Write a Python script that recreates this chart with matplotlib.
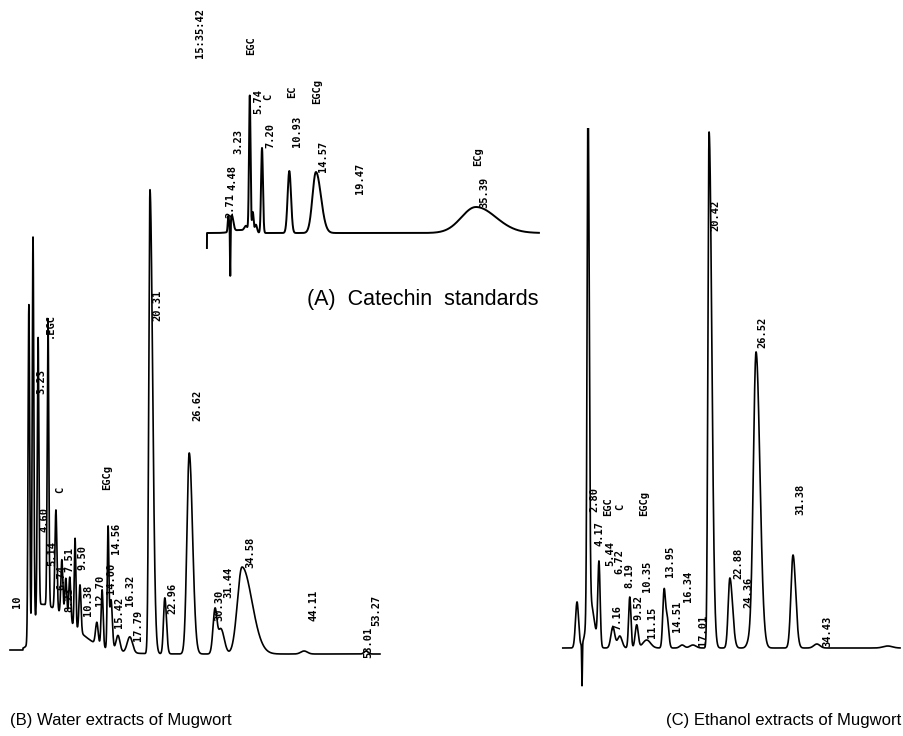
"""
HPLC chromatograms of catechin standards and mugwort extracts
"""
import numpy as np
import matplotlib.pyplot as plt

W, H = 904, 736

# ---- (A) catechin standards : retention time (min), height, left / right width (min)
a_rt = [3.0, 3.25, 3.45, 4.5, 5.3, 5.8, 6.2, 6.6, 7.4, 10.97, 14.45, 35.37]
a_h  = [15, -54, 16, 3, 5, 136, 20, 8, 85, 62, 61, 26]
a_wl = [0.08, 0.04, 0.2, 1.0, 0.2, 0.1, 0.1, 0.15, 0.12, 0.22, 0.45, 1.9]
a_wr = [0.08, 0.04, 0.2, 1.0, 0.2, 0.1, 0.1, 0.15, 0.12, 0.22, 0.65, 2.6]
a_run = (0.2, 43.6)
a_lead_t = [0.2]
a_lead_y = [-15]
a_lab = ["15:35:42", "EGC", "5.74", "C", "3.23", "2.71", "4.48", "7.20", "EC",
         "10.93", "EGCg", "14.57", "19.47", "ECg", "35.39"]
a_lab_t = [-0.7, 5.96, 6.88, 8.18, 4.26, 3.3, 3.55, 8.44, 11.3, 11.97, 14.6, 15.37, 20.2, 35.6, 36.5]
a_lab_h = [200, 187, 132, 136, 92, 28, 55, 97, 141, 102, 141, 77, 55, 76, 41]

# ---- (B) water extract
b_rt = [1.2, 4.0, 2.1, 2.73, 3.5, 5.0, 6.2, 7.1, 7.7, 8.3, 9.1, 9.85, 12.4, 13.2, 14.1,
        14.55, 15.6, 17.4, 20.45, 22.7, 26.4, 30.3, 31.2, 34.4, 43.8, 53.2]
b_h  = [5, 45, 337, 392, 272, 287, 100, 55, 40, 45, 89, 47, 22, 57, 119,
        50, 16, 16, 464, 56, 201, 44, 25, 87, 3, 3]
b_wl = [0.01, 1.0, 0.12, 0.12, 0.12, 0.12, 0.15, 0.15, 0.15, 0.15, 0.12, 0.15, 0.2, 0.15, 0.12,
        0.2, 0.3, 0.4, 0.18, 0.2, 0.35, 0.3, 0.4, 0.7, 0.5, 0.3]
b_wr = [8.0, 4.5, 0.12, 0.12, 0.12, 0.12, 0.15, 0.15, 0.15, 0.15, 0.12, 0.15, 0.2, 0.15, 0.12,
        0.2, 0.3, 0.4, 0.4, 0.25, 0.5, 0.3, 0.5, 1.5, 0.5, 0.3]
b_run = (1.2, 55.3)
b_lead_t = [-0.76, 1.2]
b_lead_y = [4, 4]
b_lab = ["10", ".EGC", "3.23", "C", "4.60", "5.14", "6.74", "7.51", "8.23", "9.50", "10.38",
         "12.70", "14.00", "14.56", "EGCg", "16.32", "15.42", "17.79", "20.31", "22.96",
         "26.62", "30.30", "31.44", "34.58", "44.11", "53.01", "53.27"]
b_lab_t = [0.3, 5.3, 3.94, 6.8, 4.4, 5.6, 7.1, 8.3, 8.3, 10.3, 11.1,
           12.9, 14.6, 15.3, 13.9, 17.4, 15.8, 18.6, 21.5, 23.8,
           27.6, 30.9, 32.3, 35.6, 45.2, 53.5, 54.8]
b_lab_h = [52, 329, 272, 164, 134, 101, 77, 94, 54, 97, 54,
           64, 76, 116, 176, 64, 42, 29, 349, 56,
           249, 49, 72, 102, 49, 12, 44]

# ---- (C) ethanol extract
c_rt = [3.25, 3.9, 4.68, 5.0, 6.1, 7.9, 8.8, 10.1, 11.0, 12.3, 14.55, 14.95, 16.9, 18.3,
        20.4, 23.1, 25.6, 26.5, 31.3, 34.4, 43.6]
c_h  = [46, -42, 516, 45, 83, 21, 12, 51, 23, 8, 55, 30, 3, 3,
        516, 70, 6, 296, 93, 4, 2]
c_wl = [0.2, 0.04, 0.12, 0.5, 0.15, 0.25, 0.3, 0.15, 0.2, 0.5, 0.17, 0.2, 0.3, 0.4,
        0.15, 0.22, 0.3, 0.35, 0.27, 0.4, 0.6]
c_wr = [0.2, 0.04, 0.15, 0.5, 0.15, 0.25, 0.3, 0.15, 0.2, 0.5, 0.17, 0.2, 0.3, 0.4,
        0.35, 0.35, 0.3, 0.5, 0.35, 0.4, 0.6]
c_run = (1.4, 45.2)
c_lab = ["2.80", "EGC", "C", "EGCg", "4.17", "5.44", "6.72", "8.19", "7.16", "9.52",
         "10.35", "11.15", "13.95", "14.51", "16.34", "17.01", "20.42", "22.88",
         "24.36", "26.52", "31.38", "34.43"]
c_lab_t = [5.45, 7.27, 8.83, 11.95, 6.23, 7.6, 8.8, 10.0, 8.44, 11.2,
           12.3, 13.0, 15.3, 16.2, 17.7, 19.6, 21.2, 24.2,
           25.5, 27.3, 32.2, 35.7]
c_lab_h = [148, 141, 141, 144, 115, 95, 86, 73, 30, 41,
           72, 26, 87, 32, 62, 18, 433, 85,
           56, 316, 149, 17]


def trace(rt, h, wl, wr, run):
    t = np.arange(run[0], run[1], 0.004)
    y = np.zeros_like(t)
    for t0, hh, sl, sr in zip(rt, h, wl, wr):
        s = np.where(t < t0, sl, sr)
        y += hh * np.exp(-0.5 * ((t - t0) / s) ** 2)
    return t, y


def panel(fig, xlim, ylim, px_x, px_y):
    # px_x / px_y: figure pixel positions of xlim / ylim ends
    ax = fig.add_axes([px_x[0] / W, 1 - px_y[0] / H,
                       (px_x[1] - px_x[0]) / W, (px_y[0] - px_y[1]) / H])
    ax.set_xlim(xlim)
    ax.set_ylim(ylim)
    ax.axis('off')
    return ax


def labels(ax, txt, tt, hh):
    for s, x, y in zip(txt, tt, hh):
        ax.text(x, y, s, rotation=90, ha='center', va='center',
                family='DejaVu Sans Mono', fontweight='bold', fontsize=7.5)


fig = plt.figure(figsize=(W / 100, H / 100), dpi=100)

# A: t -> 205.4 + 7.65 t px, height -> 233 - h px
axA = panel(fig, (0, 44), (-60, 200), (205.4, 205.4 + 44 * 7.65), (293, 33))
t, y = trace(a_rt, a_h, a_wl, a_wr, a_run)
axA.plot(np.r_[a_lead_t, t], np.r_[a_lead_y, y], color='black', lw=1.4)
labels(axA, a_lab, a_lab_t, a_lab_h)

# B: t -> 15 + 6.6 t px, height -> 654 - h px
axB = panel(fig, (-1, 56), (-20, 480), (15 - 6.6, 15 + 56 * 6.6), (674, 174))
t, y = trace(b_rt, b_h, b_wl, b_wr, b_run)
axB.plot(np.r_[b_lead_t, t], np.r_[b_lead_y, y], color='black', lw=1.2)
labels(axB, b_lab, b_lab_t, b_lab_h)

# C: t -> 552 + 7.7 t px, height -> 648 - h px
axC = panel(fig, (1, 45.5), (-50, 520), (552 + 7.7, 552 + 45.5 * 7.7), (698, 128))
t, y = trace(c_rt, c_h, c_wl, c_wr, c_run)
axC.plot(t, y, color='black', lw=1.2)
labels(axC, c_lab, c_lab_t, c_lab_h)

cap = dict(family='Liberation Sans', va='center', ha='left')
fig.text(307 / W, 1 - 300 / H, "(A)  Catechin  standards", fontsize=15.5, **cap)
fig.text(10 / W, 1 - 720 / H, "(B) Water extracts of Mugwort", fontsize=12, **cap)
fig.text(666 / W, 1 - 720 / H, "(C) Ethanol extracts of Mugwort", fontsize=12, **cap)

fig.savefig('out.png', dpi=100, facecolor='white')
